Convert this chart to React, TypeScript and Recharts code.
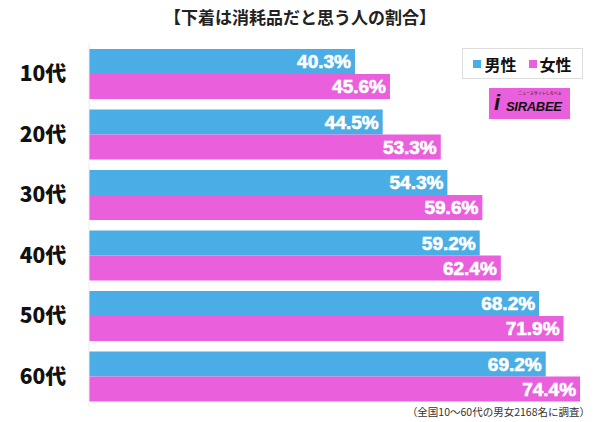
import React from 'react';
import { BarChart, Bar, XAxis, YAxis, LabelList } from 'recharts';

const ages = ['10代', '20代', '30代', '40代', '50代', '60代'];
const male = [40.3, 44.5, 54.3, 59.2, 68.2, 69.2];
const female = [45.6, 53.3, 59.6, 62.4, 71.9, 74.4];

const BLUE = '#4aade6';
const PINK = '#e95fdc';
const JP = '"Noto Sans CJK JP", "Noto Sans", sans-serif';
const NUM = '"Liberation Sans", Arial, sans-serif';

const data = ages.map((age, i) => ({ age, male: male[i], female: female[i] }));

const AgeTick = (props: any) => {
  const { y, payload } = props;
  return (
    <text
      x={43}
      y={y}
      dy={7}
      textAnchor="middle"
      fontFamily={JP}
      fontWeight={900}
      fontSize={21}
      fill="#111"
    >
      {payload.value}
    </text>
  );
};

const fmt = (v: any) => `${Number(v).toFixed(1)}%`;

const App: React.FC = () => {
  return (
    <div style={{ position: 'absolute', left: 0, top: 0, width: 600, height: 422, background: '#fff' }}>
      <div
        style={{
          position: 'absolute',
          top: 4,
          left: 0,
          width: 600,
          textAlign: 'center',
          fontFamily: JP,
          fontWeight: 700,
          fontSize: 17,
          color: '#222',
        }}
      >
        【下着は消耗品だと思う人の割合】
      </div>

      <BarChart
        width={600}
        height={422}
        data={data}
        layout="vertical"
        margin={{ top: 44, right: 16, bottom: 15, left: 0 }}
        barCategoryGap={5}
        barGap={0}
      >
        <XAxis type="number" domain={[0, 75]} hide />
        <YAxis
          type="category"
          dataKey="age"
          width={89}
          axisLine={{ stroke: '#ececec' }}
          tickLine={false}
          tick={<AgeTick />}
        />
        <Bar dataKey="male" fill={BLUE} isAnimationActive={false}>
          <LabelList
            dataKey="male"
            position="insideRight"
            offset={4}
            formatter={fmt}
            fill="#fff"
            stroke="#fff"
            strokeWidth={0.6}
            fontSize={19}
            fontWeight={700}
            fontFamily={NUM}
          />
        </Bar>
        <Bar dataKey="female" fill={PINK} isAnimationActive={false}>
          <LabelList
            dataKey="female"
            position="insideRight"
            offset={4}
            formatter={fmt}
            fill="#fff"
            stroke="#fff"
            strokeWidth={0.6}
            fontSize={19}
            fontWeight={700}
            fontFamily={NUM}
          />
        </Bar>
      </BarChart>

      {/* legend */}
      <div
        style={{
          position: 'absolute',
          left: 462,
          top: 48,
          width: 119,
          height: 29,
          border: '1px solid #ddd',
          display: 'flex',
          alignItems: 'center',
          justifyContent: 'center',
          gap: 12,
          fontFamily: JP,
          fontWeight: 700,
          fontSize: 16,
          color: '#111',
          background: '#fff',
        }}
      >
        <span style={{ display: 'flex', alignItems: 'center' }}>
          <span style={{ width: 8, height: 8, background: BLUE, marginRight: 3 }} />
          男性
        </span>
        <span style={{ display: 'flex', alignItems: 'center' }}>
          <span style={{ width: 8, height: 8, background: PINK, marginRight: 3 }} />
          女性
        </span>
      </div>

      {/* logo */}
      <div
        style={{
          position: 'absolute',
          left: 489,
          top: 88,
          width: 81,
          height: 31,
          background: PINK,
          fontFamily: NUM,
          color: '#111',
        }}
      >
        <div style={{ position: 'absolute', left: 5, top: 3, fontSize: 22, fontWeight: 900, fontStyle: 'italic', lineHeight: '24px' }}>
          i
        </div>
        <div style={{ position: 'absolute', left: 29, top: 3, fontSize: 4, fontFamily: JP, lineHeight: '5px' }}>
          ニュースサイトしらべぇ
        </div>
        <div
          style={{
            position: 'absolute',
            left: 17,
            top: 11,
            fontSize: 13,
            fontWeight: 900,
            fontStyle: 'italic',
            lineHeight: '15px',
            letterSpacing: -0.3,
          }}
        >
          SIRABEE
        </div>
      </div>

      <div
        style={{
          position: 'absolute',
          right: 10,
          top: 404,
          fontFamily: JP,
          fontSize: 10.5,
          color: '#333',
          whiteSpace: 'nowrap',
        }}
      >
        （全国10〜60代の男女2168名に調査）
      </div>
    </div>
  );
};

export default App;
